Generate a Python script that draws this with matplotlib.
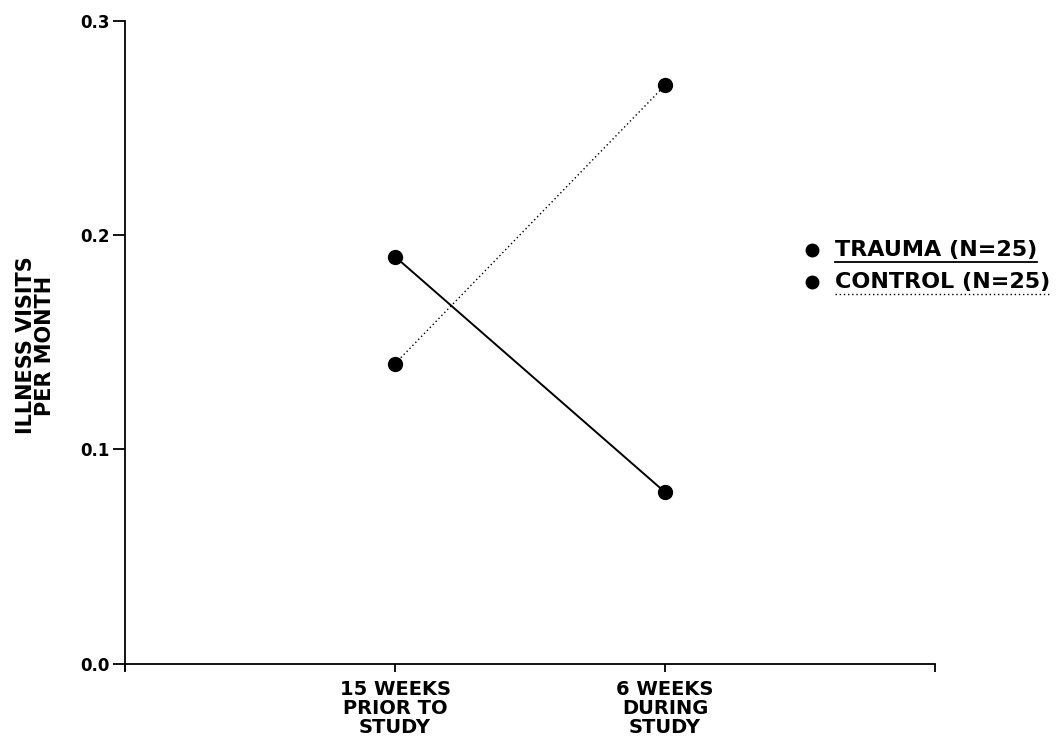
import matplotlib.pyplot as plt
from matplotlib.lines import Line2D

plt.rcParams['font.family'] = ['DejaVu Sans']
plt.rcParams['font.weight'] = 'bold'

# data
periods = ["15 WEEKS\nPRIOR TO\nSTUDY", "6 WEEKS\nDURING\nSTUDY"]
trauma = [0.19, 0.08]
control = [0.14, 0.27]
legend_labels = ["TRAUMA (N=25)", "CONTROL (N=25)"]
y_ticks = [0.0, 0.1, 0.2, 0.3]

fig = plt.figure(figsize=(10.64, 7.48), dpi=100)
ax = fig.add_axes([0.1175, 0.1043, 0.7613, 0.8676])

x = [1, 2]
ax.plot(x, trauma, color='black', lw=1.4, marker='o', ms=10, zorder=3)
ax.plot(x, control, color='black', lw=1.0, ls=(0, (1, 2)), marker='o', ms=10, zorder=3)

ax.set_xlim(0, 3)
ax.set_ylim(-0.003, 0.3)
ax.spines['top'].set_visible(False)
ax.spines['right'].set_visible(False)
ax.spines['bottom'].set_position(('data', 0))
ax.spines['left'].set_bounds(-0.003, 0.3)
for s in ('left', 'bottom'):
    ax.spines[s].set_linewidth(1.3)

ax.set_xticks([0, 1, 2, 3])
ax.set_xticklabels([""] + periods + [""], fontsize=14, fontweight='bold', linespacing=1.0)
ax.set_yticks(y_ticks)
ax.set_yticklabels([f"{v:.1f}" for v in y_ticks], fontsize=12, fontweight='bold')
ax.tick_params(axis='y', length=9, width=1.3, pad=2)
ax.tick_params(axis='x', length=6, width=1.3, pad=6)

ax.set_ylabel("ILLNESS VISITS\nPER MONTH", fontsize=15, fontweight='bold', linespacing=0.95, labelpad=18)

# legend drawn by hand with underlines
styles = [dict(ls='-', lw=1.3), dict(ls=(0, (1, 2)), lw=1.0)]
ys = [1 - 250 / 748, 1 - 282 / 748]
texts = []
for lab, yy, st in zip(legend_labels, ys, styles):
    fig.add_artist(Line2D([812 / 1064], [yy], marker='o', ms=9, color='black'))
    t = fig.text(835 / 1064, yy, lab, fontsize=16, fontweight='bold', va='center', ha='left')
    texts.append((t, st))

fig.canvas.draw()
r = fig.canvas.get_renderer()
inv = fig.transFigure.inverted()
for t, st in texts:
    bb = t.get_window_extent(r).transformed(inv)
    uy = bb.y0 - 2 / 748
    fig.add_artist(Line2D([bb.x0, bb.x1], [uy, uy], color='black', **st))

fig.savefig("out.png", dpi=100)
